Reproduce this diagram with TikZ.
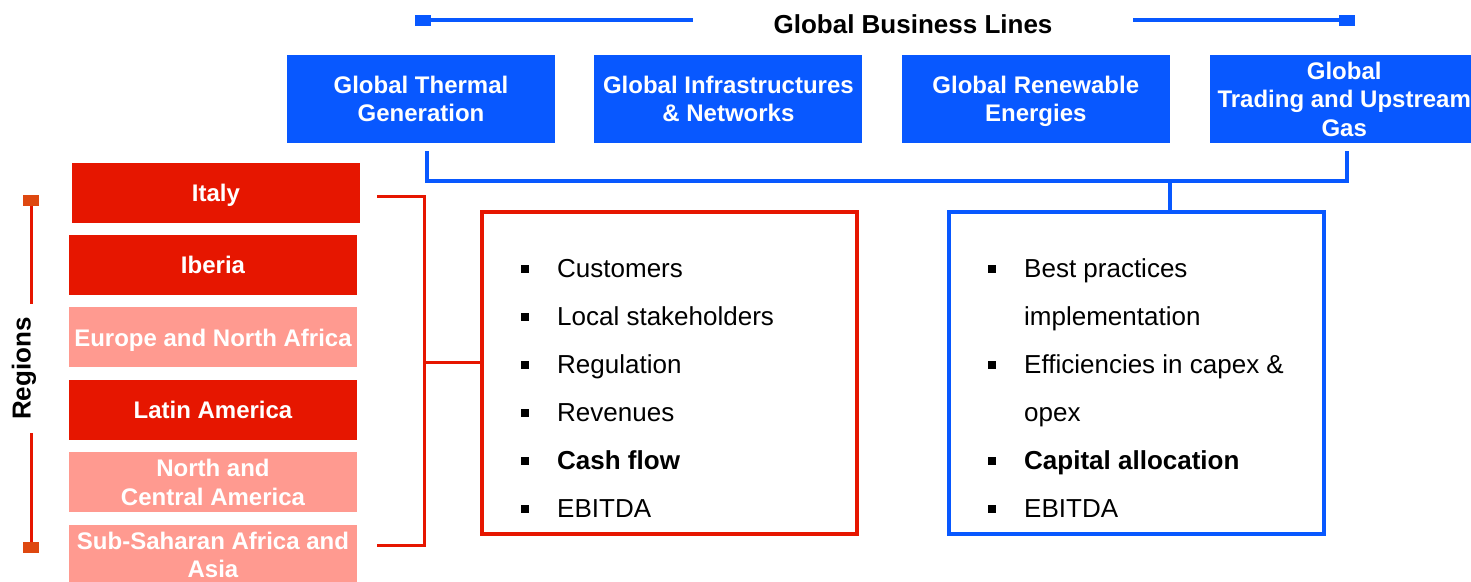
\documentclass[tikz,border=0pt]{standalone}
\usepackage{fontspec}
\setmainfont{Liberation Sans}
\usetikzlibrary{positioning}
\definecolor{glBlue}{RGB}{8,88,255}
\definecolor{rgRed}{RGB}{230,22,0}
\definecolor{rgPink}{RGB}{255,154,144}
\definecolor{rgOrange}{RGB}{222,72,16}
\newcommand{\bul}{\rule[4pt]{8pt}{8pt}\hspace{28pt}}

\begin{document}
\begin{tikzpicture}[x=1pt,y=-1pt,
        glbox/.style={fill=glBlue, text=white, minimum width=268pt, minimum height=88pt,
            inner sep=0pt, text depth=0pt, align=center, font=\fontsize{24pt}{28.5pt}\selectfont\bfseries},
        rgbox/.style={fill=rgRed, text=white, minimum width=288pt, minimum height=60pt,
            inner sep=0pt, text depth=0pt, align=center, font=\fontsize{24pt}{28.5pt}\selectfont\bfseries},
        pkbox/.style={rgbox, fill=rgPink},
        sqend/.style={minimum width=16pt, minimum height=11pt, inner sep=0pt},
        item/.style={anchor=base west, inner sep=0pt, font=\fontsize{26pt}{30pt}\selectfont},
        blueline/.style={glBlue, line width=4pt},
        redline/.style={rgRed, line width=3pt}]
    \useasboundingbox (0,0) rectangle (1471,581);
    % business lines
    \node[font=\fontsize{26pt}{30pt}\selectfont\bfseries, inner xsep=80pt, inner ysep=0pt] (ttl) at (913,24) {Global Business Lines};
    \node[sqend, fill=glBlue] (lsq) at (423,20) {};
    \node[sqend, fill=glBlue] (rsq) at (1347,20) {};
    \draw[blueline] (lsq.east) -- (lsq.east -| ttl.west);
    \draw[blueline] (rsq.west) -- (rsq.west -| ttl.east);
    \node[glbox] (thermal) at (421,99) {Global Thermal\\Generation};
    \node[glbox, right=39pt of thermal] (infra) {Global Infrastructures\\\& Networks};
    \node[glbox, right=39pt of infra] (renew) {Global Renewable\\Energies};
    \node[glbox, right=40pt of renew] (trading) {Global\\Trading and Upstream\\Gas};
    % regions
    \node[rgbox] (italy) at (216,193) {Italy};
    \node[rgbox] (iberia) at (213,265) {Iberia};
    \node[pkbox, below=12pt of iberia] (europe) {Europe and North Africa};
    \node[rgbox, below=12pt of europe] (latam) {Latin America};
    \node[pkbox, below=12pt of latam] (nca) {North and\\Central America};
    \node[pkbox, below=12pt of nca] (ssa) {Sub-Saharan Africa and\\Asia};
    \node[font=\fontsize{26pt}{30pt}\selectfont\bfseries, rotate=90, inner xsep=13pt, inner ysep=0pt] (reg) at (24,368.5) {Regions};
    \node[sqend, fill=rgOrange] (tsq) at (31,200.5) {};
    \node[sqend, fill=rgOrange] (bsq) at (31,547.5) {};
    \draw[redline] (tsq.south) -- (tsq.south |- reg.east);
    \draw[redline] (bsq.north) -- (bsq.north |- reg.west);
    % boxes
    \node[draw=rgRed, line width=4pt, minimum width=375pt, minimum height=322pt] (local) at (669.5,373) {};
    \node[draw=glBlue, line width=4pt, minimum width=375pt, minimum height=322pt] (global) at (1136.5,373) {};
    \coordinate (ra) at (377,196);
    \coordinate (rb) at (377,545);
    \draw[redline] (ra) -- (424,196) -- (424,545) -- (rb);
    \draw[redline] (424,362) -- (local.west |- 0,362);
    \coordinate (ba) at (427,151);
    \coordinate (bb) at (1347,151);
    \draw[blueline] (ba) -- (427,181) -- (1347,181) -- (bb);
    \draw[blueline] (1170,181) -- (global.north -| 1170,0);
    % items
    \node[item] (c1) at (521,277) {\bul Customers};
    \node[item, below=48pt of c1.base west, anchor=base west] (c2) {\bul Local stakeholders};
    \node[item, below=48pt of c2.base west, anchor=base west] (c3) {\bul Regulation};
    \node[item, below=48pt of c3.base west, anchor=base west] (c4) {\bul Revenues};
    \node[item, below=48pt of c4.base west, anchor=base west] (c5) {\bul\textbf{Cash flow}};
    \node[item, below=48pt of c5.base west, anchor=base west] (c6) {\bul EBITDA};
    \node[item] (g1) at (988,277) {\bul Best practices};
    \node[item, below=48pt of g1.base west, anchor=base west] (g2) {\hspace{36pt}implementation};
    \node[item, below=48pt of g2.base west, anchor=base west] (g3) {\bul Efficiencies in capex \&};
    \node[item, below=48pt of g3.base west, anchor=base west] (g4) {\hspace{36pt}opex};
    \node[item, below=48pt of g4.base west, anchor=base west] (g5) {\bul\textbf{Capital allocation}};
    \node[item, below=48pt of g5.base west, anchor=base west] (g6) {\bul EBITDA};
\end{tikzpicture}
\end{document}
